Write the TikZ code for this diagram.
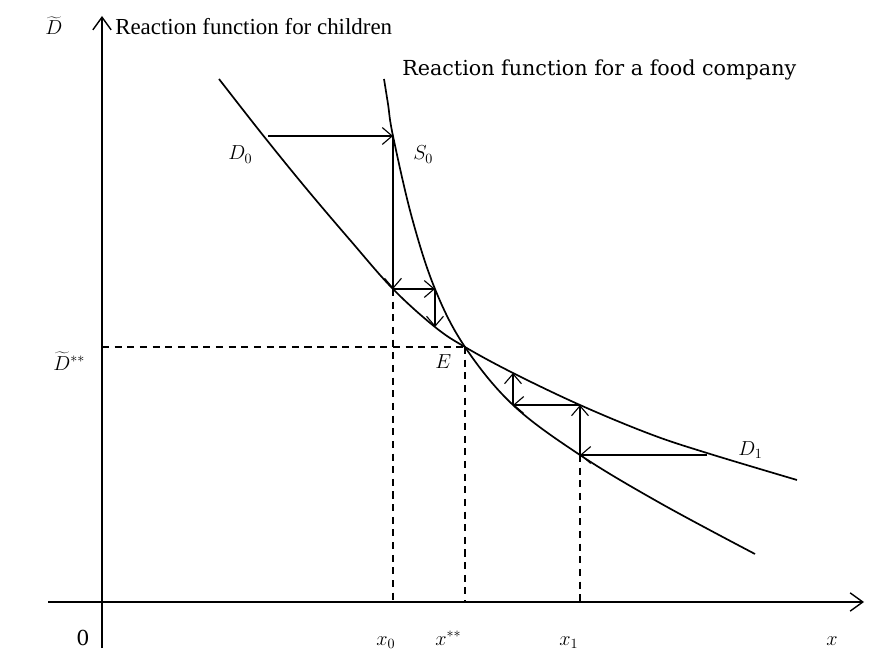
\documentclass[tikz,border=0pt]{standalone}
\usepackage{fontspec}
\setmainfont{Liberation Serif}
\newfontfamily\centfont{DejaVu Serif}
\usetikzlibrary{arrows.meta}
\begin{document}
\begin{tikzpicture}[x=0.025cm,y=-0.025cm,
  axis/.style={line width=1.1pt,-{Straight Barb[length=9pt,width=13pt,line width=1pt]}},
  curve/.style={line width=1.2pt},
  arr/.style={line width=0.8pt,-{Straight Barb[length=7pt,width=12pt,line width=0.8pt]}},
  guide/.style={line width=0.8pt,dash pattern=on 5pt off 4pt},
  lbl/.style={inner sep=0pt,anchor=base west,font=\fontsize{16.3}{19}\selectfont},
  flbl/.style={inner sep=0pt,anchor=base west,font=\centfont\fontsize{14.7}{18}\selectfont},
  mlbl/.style={inner sep=0pt,anchor=base west,font=\fontsize{14}{17}\selectfont}]
\useasboundingbox (0,0) rectangle (882,669);
% axes
\coordinate (xs) at (48,602);
\coordinate (xe) at (864,602);
\coordinate (ys) at (102,648);
\coordinate (ye) at (102,16);
\draw[axis] (xs) -- (xe);
\draw[axis] (ys) -- (ye);
% key points
\coordinate (E) at (465,347);
\coordinate (a1) at (268,136);
\coordinate (s1) at (393,136);
\coordinate (d1) at (393,289);
\coordinate (s2) at (435,289);
\coordinate (d2) at (435,327);
\coordinate (d3) at (513,373);
\coordinate (s3) at (513,405);
\coordinate (d4) at (580,405);
\coordinate (s4) at (580,455);
\coordinate (a2) at (707,455);
% curves
\draw[curve] plot[smooth,tension=0.6] coordinates {(219,79) (262,134) (305,187) (350,240) (393,289) (435,327) (465,347) (513,373) (580,405) (650,434) (707,453) (797,480)};
\draw[curve] plot[smooth,tension=0.6] coordinates {(384,79) (388,104) (393,136) (412,218) (435,289) (465,347) (513,405) (580,455) (660,503) (755,554)};
% dashed guides
\coordinate (yD) at (102,347);
\coordinate (bx0) at (393,602);
\coordinate (bxs) at (465,602);
\coordinate (bx1) at (580,602);
\draw[guide] (yD) -- (E);
\draw[guide] (d1) -- (bx0);
\draw[guide] (E) -- (bxs);
\draw[guide] (s4) -- (bx1);
% cobweb arrows
\draw[arr] (a1) -- (s1);
\draw[arr] (s1) -- (d1);
\draw[arr] (d1) -- (s2);
\draw[arr] (s2) -- (d2);
\draw[arr] (a2) -- (s4);
\draw[arr] (s4) -- (d4);
\draw[arr] (d4) -- (s3);
\draw[arr] (s3) -- (d3);
% labels
\node[mlbl] (lD) at (45,35) {$\widetilde{D}$};
\node[lbl] (lRc) at (115,35) {Reaction function for children};
\node[flbl] (lRf) at (402,76) {Reaction function for a food company};
\node[mlbl] (lD0) at (228,160) {$D_0$};
\node[mlbl] (lS0) at (413,160) {$S_0$};
\node[mlbl] (lDss) at (53,370) {$\widetilde{D}^{**}$};
\node[mlbl] (lE) at (435,368) {$E$};
\node[mlbl] (lD1) at (738,455) {$D_1$};
\node[flbl] (l0) at (76,645) {0};
\node[mlbl] (lx0) at (376,645) {$x_0$};
\node[mlbl] (lxs) at (435,645) {$x^{**}$};
\node[mlbl] (lx1) at (559,645) {$x_1$};
\node[mlbl] (lx) at (826,645) {$x$};
\end{tikzpicture}
\end{document}
